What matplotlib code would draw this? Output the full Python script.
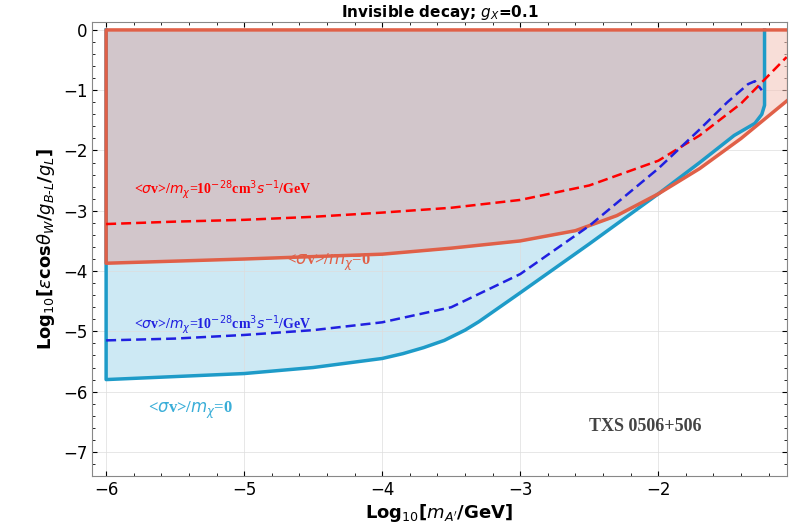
import numpy as np
import matplotlib
matplotlib.use("Agg")
import matplotlib.pyplot as plt

# red solid lower boundary (sigma v/m = 0, B-L)
red_x = [-6, -5, -4, -3.5, -3, -2.6, -2.3, -2, -1.7, -1.4, -1.07]
red_y = [-3.87, -3.8, -3.72, -3.62, -3.5, -3.33, -3.08, -2.72, -2.3, -1.8, -1.18]
# blue solid lower boundary
blue_x = [-6, -5, -4.5, -4, -3.85, -3.7, -3.55, -3.4, -3.3, -3.2, -3.1, -3, -2.5, -2, -1.7, -1.45, -1.3, -1.25, -1.23]
blue_y = [-5.8, -5.7, -5.6, -5.45, -5.37, -5.27, -5.15, -4.98, -4.84, -4.68, -4.52, -4.36, -3.55, -2.72, -2.2, -1.75, -1.55, -1.4, -1.25]
# dashed lines
rd_x = [-6, -5.5, -5, -4.5, -4, -3.5, -3, -2.5, -2, -1.7, -1.4, -1.07]
rd_y = [-3.22, -3.18, -3.15, -3.1, -3.03, -2.95, -2.82, -2.58, -2.17, -1.75, -1.22, -0.45]
bd_x = [-6, -5.5, -5, -4.5, -4, -3.5, -3, -2.5, -2, -1.7, -1.5, -1.35, -1.3, -1.25]
bd_y = [-5.15, -5.12, -5.06, -4.98, -4.85, -4.6, -4.05, -3.25, -2.3, -1.65, -1.2, -0.9, -0.85, -1.0]

fig = plt.figure(figsize=(7.89, 5.26), dpi=100)
ax = fig.add_axes([0.117, 0.095, 0.88, 0.863])
ax.set_xlim(-6.1, -1.07); ax.set_ylim(-7.4, 0.13)

bx = blue_x + [blue_x[-1], -6]
by = blue_y + [0, 0]
ax.fill(bx, by, color="#cde9f4", zorder=1)
rx = red_x + [-1.07, -6]
ry = red_y + [0, 0]
ax.fill(rx, ry, color="#f3c4b9", alpha=0.55, zorder=2)
xs = np.linspace(-6, blue_x[-1], 300)
ov = np.maximum(np.interp(xs, red_x, red_y), np.interp(xs, blue_x, blue_y))
ax.fill_between(xs, ov, 0, color="#d2c6cb", zorder=2.5)

ax.plot([-6, -6] + blue_x + [blue_x[-1]], [0, -5.8] + blue_y + [0], color="#1e9bc8", lw=2.5, zorder=4)
ax.plot([-1.07, -6, -6] + red_x, [0, 0, -3.87] + red_y, color="#e06048", lw=2.5, zorder=5)
ax.plot(rd_x, rd_y, color="red", ls=(0, (4, 2)), lw=1.8, zorder=6)
ax.plot(bd_x, bd_y, color="#2020e0", ls=(0, (4, 2)), lw=1.8, zorder=6)

ax.grid(True, color="#dddddd", lw=0.5)
ax.set_xticks([-6, -5, -4, -3, -2])
ax.set_xticklabels(["\u22126", "\u22125", "\u22124", "\u22123", "\u22122"])
ax.set_yticks(range(-7, 1))
ax.set_yticklabels(["\u22127", "\u22126", "\u22125", "\u22124", "\u22123", "\u22122", "\u22121", "0"])
ax.minorticks_on()
ax.tick_params(which="both", top=True, right=True, direction="in", labelsize=12)
for s in ax.spines.values():
    s.set_color("#888888")

ax.set_xlabel(r"Log$_{10}$[$m_{A'}$/GeV]", fontsize=13, fontweight="bold", labelpad=2)
ax.set_ylabel(r"Log$_{10}$[$\epsilon$cos$\theta_W$/$g_{B\text{-}L}$/$g_L$]", fontsize=13, fontweight="bold")
ax.set_title(r"Invisible decay; $g_X$=0.1", fontsize=11, fontweight="bold", pad=3)

ser = dict(family="Liberation Serif", fontweight="bold")
ax.text(-5.8, -2.72, r"<$\sigma$v>/$m_\chi$=10$^{-28}$cm$^3$$s^{-1}$/GeV", color="red", fontsize=10, **ser)
ax.text(-4.7, -3.9, r"<$\sigma$v>/$m_\chi$=0", color="#e06048", fontsize=12, **ser)
ax.text(-5.8, -4.95, r"<$\sigma$v>/$m_\chi$=10$^{-28}$cm$^3$$s^{-1}$/GeV", color="#2020e0", fontsize=10, **ser)
ax.text(-5.7, -6.35, r"<$\sigma$v>/$m_\chi$=0", color="#3aaed8", fontsize=12, **ser)
ax.text(-2.5, -6.65, "TXS 0506+506", color="#444444", fontsize=13, **ser)

fig.savefig("out.png", dpi=100)
